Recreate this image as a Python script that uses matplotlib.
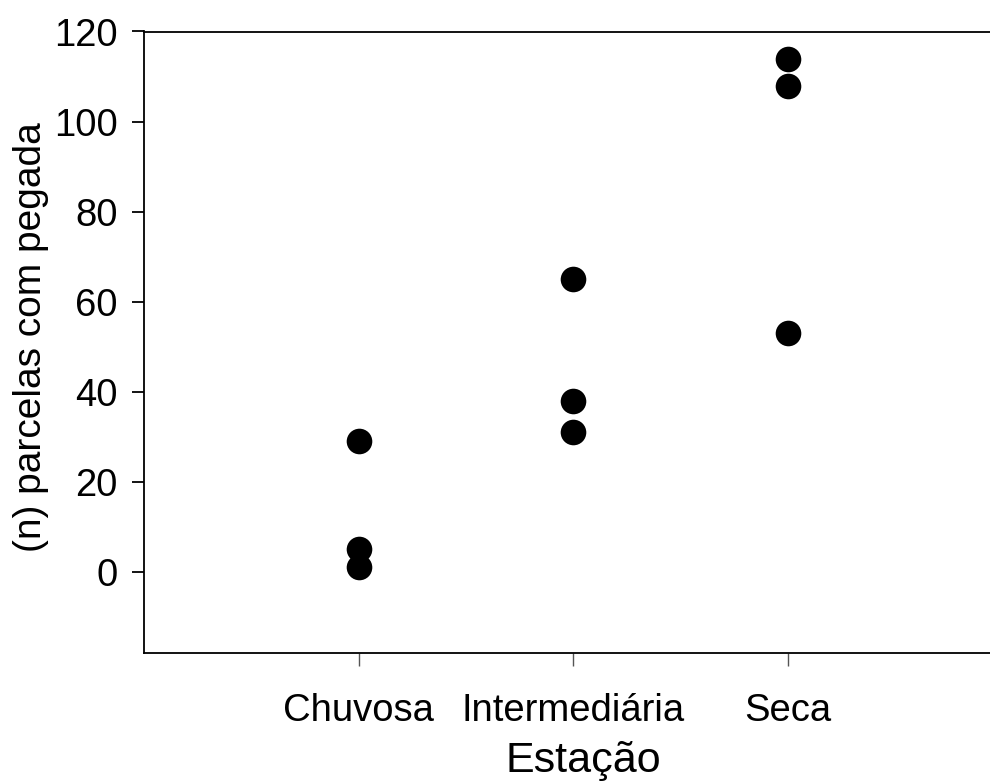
import matplotlib
matplotlib.use('Agg')
import matplotlib.pyplot as plt

# data
categories = ['Chuvosa', 'Intermediária', 'Seca']
chuvosa = [29, 5, 1]
intermediaria = [65, 38, 31]
seca = [114, 108, 53]
y_ticks = [0, 20, 40, 60, 80, 100, 120]

plt.rcParams['font.family'] = ['Liberation Sans', 'DejaVu Sans']

fig = plt.figure(figsize=(9.9, 7.82), dpi=100)
ax = fig.add_axes([144 / 990, 1 - 652.7 / 782, 1 - 144 / 990, (652.7 - 31.5) / 782])

for i, vals in enumerate([chuvosa, intermediaria, seca]):
    ax.scatter([i + 1] * len(vals), vals, s=340, color='black', zorder=3, linewidths=0)

ax.set_xlim(0, (990 - 144) / 214.5)
ax.set_ylim(-18, 120)
ax.set_xticks([1, 2, 3])
ax.set_xticklabels(categories)
ax.set_yticks(y_ticks)

ax.spines['right'].set_visible(False)
for s in ['left', 'top', 'bottom']:
    ax.spines[s].set_linewidth(1.3)

ax.tick_params(axis='y', direction='out', length=9, width=1.3, labelsize=27.5, pad=10)
ax.tick_params(axis='x', direction='out', length=9, width=1.0, color='#555555', labelsize=27.5, pad=20)

ax.set_xlabel('Estação', fontsize=31, va='baseline')
ax.xaxis.set_label_coords(0.519, -0.192)
ax.set_ylabel('(n) parcelas com pegada', fontsize=28, va='center')
ax.yaxis.set_label_coords(-0.134, 0.508)

fig.savefig('out.png', dpi=100)
